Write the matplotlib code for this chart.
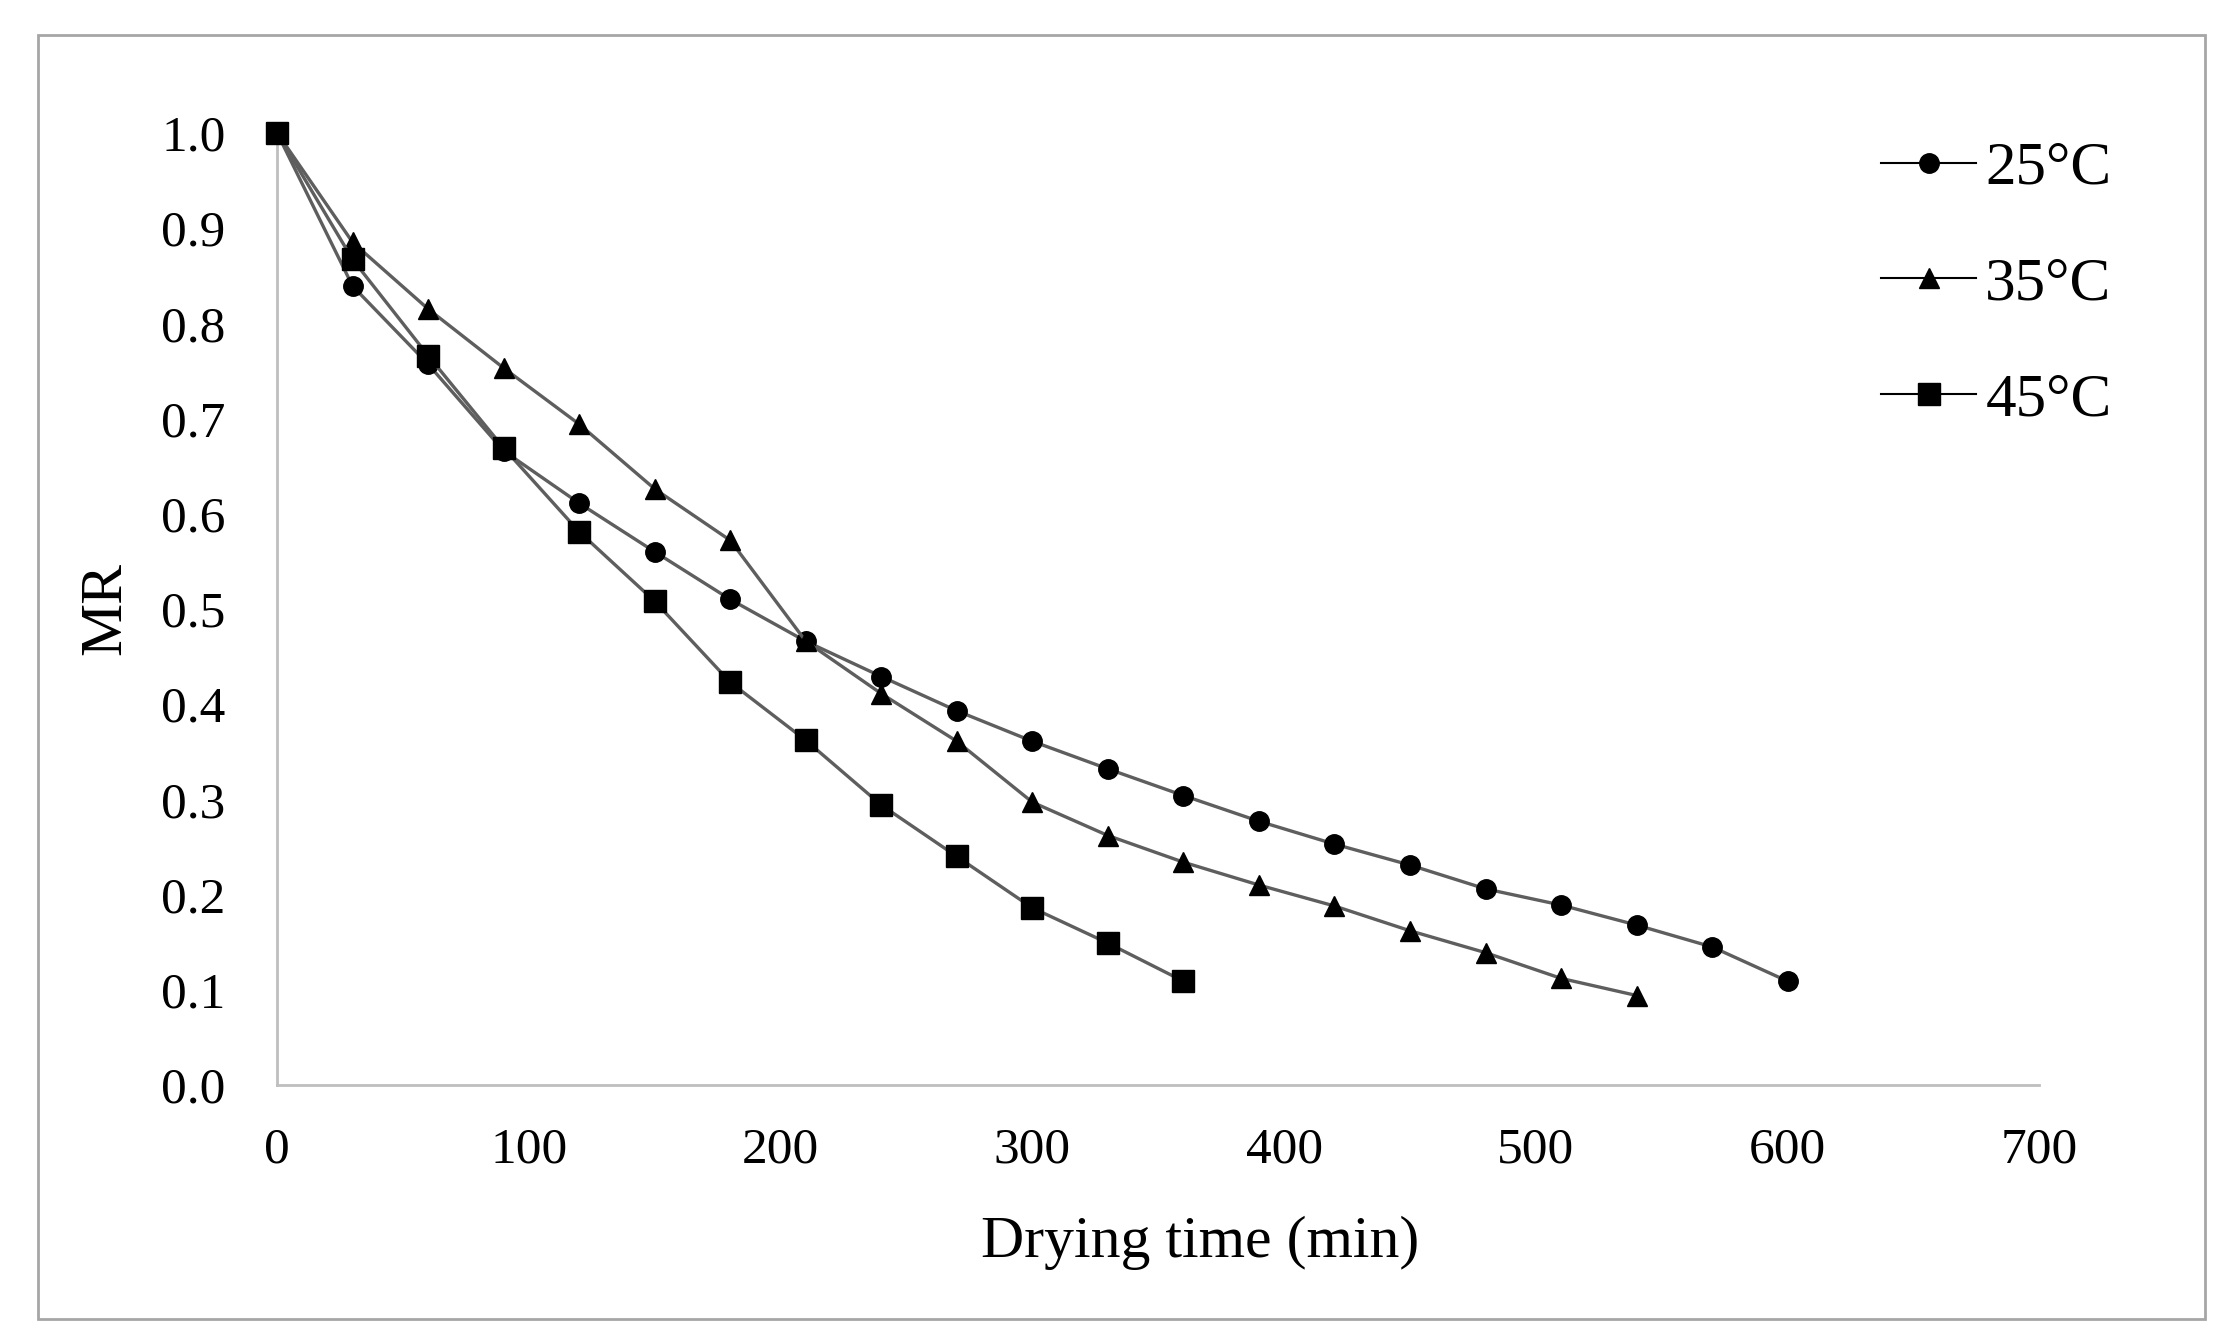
import matplotlib
matplotlib.use("Agg")
import matplotlib.pyplot as plt
from matplotlib.patches import Rectangle

time_25 = [0, 30, 60, 90, 120, 150, 180, 210, 240, 270, 300, 330, 360, 390, 420, 450, 480, 510, 540, 570, 600]
mr_25 = [1.0, 0.839, 0.757, 0.666, 0.611, 0.560, 0.510, 0.466, 0.429, 0.393, 0.361, 0.332, 0.304, 0.277,
         0.253, 0.231, 0.206, 0.189, 0.168, 0.145, 0.109]

time_35 = [0, 30, 60, 90, 120, 150, 180, 210, 240, 270, 300, 330, 360, 390, 420, 450, 480, 510, 540]
mr_35 = [1.0, 0.885, 0.815, 0.753, 0.694, 0.626, 0.572, 0.466, 0.411, 0.361, 0.297, 0.262, 0.234, 0.210,
         0.188, 0.162, 0.139, 0.112, 0.094]

time_45 = [0, 30, 60, 90, 120, 150, 180, 210, 240, 270, 300, 330, 360]
mr_45 = [1.0, 0.867, 0.766, 0.669, 0.581, 0.508, 0.423, 0.362, 0.294, 0.240, 0.186, 0.149, 0.109]

labels = ["25°C", "35°C", "45°C"]
x_ticks = [0, 100, 200, 300, 400, 500, 600, 700]
y_ticks = [0.0, 0.1, 0.2, 0.3, 0.4, 0.5, 0.6, 0.7, 0.8, 0.9, 1.0]

plt.rcParams['font.family'] = ['Liberation Serif', 'DejaVu Serif']

fig = plt.figure(figsize=(22.24, 13.42), dpi=100)
ax = fig.add_axes([0.1246, 0.1915, 0.917 - 0.1246, 0.901 - 0.1915])

line_col = '#5e5e5e'
ax.plot(time_25, mr_25, color=line_col, lw=2.4, marker='o', ms=14, mfc='black', mec='black', label=labels[0], zorder=3)
ax.plot(time_35, mr_35, color=line_col, lw=2.4, marker='^', ms=14, mfc='black', mec='black', label=labels[1], zorder=3)
ax.plot(time_45, mr_45, color=line_col, lw=2.4, marker='s', ms=16, mfc='black', mec='black', label=labels[2], zorder=4)

ax.set_xlim(0, 700)
ax.set_ylim(0, 1.0)
ax.set_xticks(x_ticks)
ax.set_xticklabels([str(v) for v in x_ticks])
ax.set_yticks(y_ticks)
ax.set_yticklabels([f"{v:.1f}" for v in y_ticks])
ax.tick_params(axis='both', length=0, labelsize=37)
ax.tick_params(axis='x', pad=30)
ax.tick_params(axis='y', pad=37)

for s in ['top', 'right']:
    ax.spines[s].set_visible(False)
for s in ['left', 'bottom']:
    ax.spines[s].set_color('#bfbfbf')
    ax.spines[s].set_linewidth(2.0)
for l in ax.lines:
    l.set_clip_on(False)

ax.set_xlabel("Drying time (min)", fontsize=43)
ax.xaxis.label.set_va('center')
ax.xaxis.set_label_coords(0.524, (1085 - 1243) / 952)
ax.set_ylabel("MR", fontsize=43)
ax.yaxis.label.set_va('center')
ax.yaxis.set_label_coords((106 - 277) / 1762, 0.5)

leg = fig.legend(loc='upper left', bbox_to_anchor=(0.835, 0.913), frameon=False, fontsize=44,
                 handlelength=1.55, handletextpad=0.15, labelspacing=0.98, borderaxespad=0)
for h in leg.legend_handles:
    h.set_color('black')
    h.set_linewidth(1.5)

fig.patches.append(Rectangle((0.0171, 0.0171), 0.9914 - 0.0171, 0.974 - 0.0171, transform=fig.transFigure,
                             fill=False, edgecolor='#a6a6a6', lw=2.0))

fig.savefig("out.png", dpi=100, facecolor='white')
